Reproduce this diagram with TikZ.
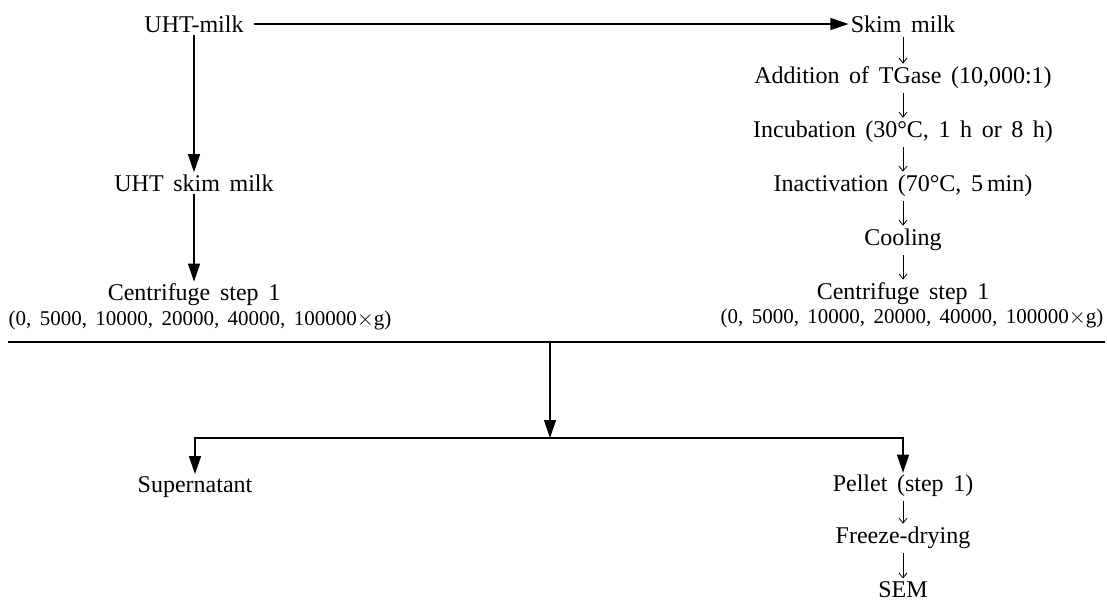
\documentclass[tikz,border=0pt]{standalone}
\usepackage{fontspec}
\setmainfont{Liberation Serif}[WordSpace=1.6]
\usetikzlibrary{arrows.meta,positioning}

\begin{document}
\begin{tikzpicture}[x=0.5pt,y=-0.5pt,node distance=27pt,on grid,
    every node/.style={inner sep=1pt,font=\fontsize{12}{14}\selectfont},
    big/.style={-{Triangle[length=9pt,width=6pt]},line width=0.6pt},
    small/.style={-{Straight Barb[length=2.5pt,width=4pt]},line width=0.4pt,shorten <=1pt,shorten >=0.5pt},
    gforce/.style={font=\fontsize{10.5}{12}\selectfont}]
   \useasboundingbox (0,0) rectangle (1107,602);
   % left branch
   \node (uht) at (194,24) {UHT-milk};
   \node (uhtskim) at (194,183) {UHT skim milk};
   \node (cenL) [below=56pt of uhtskim] {Centrifuge step 1};
   \node (gL) [gforce] at (200,320) {(0, 5000, 10000, 20000, 40000, 100000$\times$g)};
   % TGase branch
   \node (skim) at (903,24) {Skim milk};
   \node (tgase) [below=of skim] {Addition of TGase (10,000:1)};
   \node (incub) [below=of tgase] {Incubation (30\textdegree C, 1 h or 8 h)};
   \node (inact) [below=of incub] {Inactivation (70\textdegree C, 5\,min)};
   \node (cool) [below=of inact] {Cooling};
   \node (cenR) [below=of cool] {Centrifuge step 1};
   \node (gR) [gforce] at (912,318) {(0, 5000, 10000, 20000, 40000, 100000$\times$g)};
   % after centrifuge
   \coordinate (lineL) at (8,342);
   \coordinate (lineR) at (1105,342);
   \coordinate (split) at (550,342);
   \coordinate (fork) at (550,438);
   \node (sup) at (195,487) {Supernatant};
   \node (pellet) at (903,486) {Pellet (step 1)};
   \node (freeze) [below=26pt of pellet] {Freeze-drying};
   \node (sem) [below=26pt of freeze] {SEM};

   \draw[big, shorten <=4pt] (uht) -- (skim);
   \draw[big] (uht) -- (uhtskim);
   \draw[big] (uhtskim) -- (cenL);
   \draw[small] (skim) -- (tgase);
   \draw[small] (tgase) -- (incub);
   \draw[small] (incub) -- (inact);
   \draw[small] (inact) -- (cool);
   \draw[small] (cool) -- (cenR);
   \draw[line width=0.6pt] (lineL) -- (lineR);
   \draw[big] (split) -- (fork);
   \draw[big] (fork) -| (sup);
   \draw[big] (fork) -| (pellet);
   \draw[small] (pellet) -- (freeze);
   \draw[small] (freeze) -- (sem);
\end{tikzpicture}
\end{document}
